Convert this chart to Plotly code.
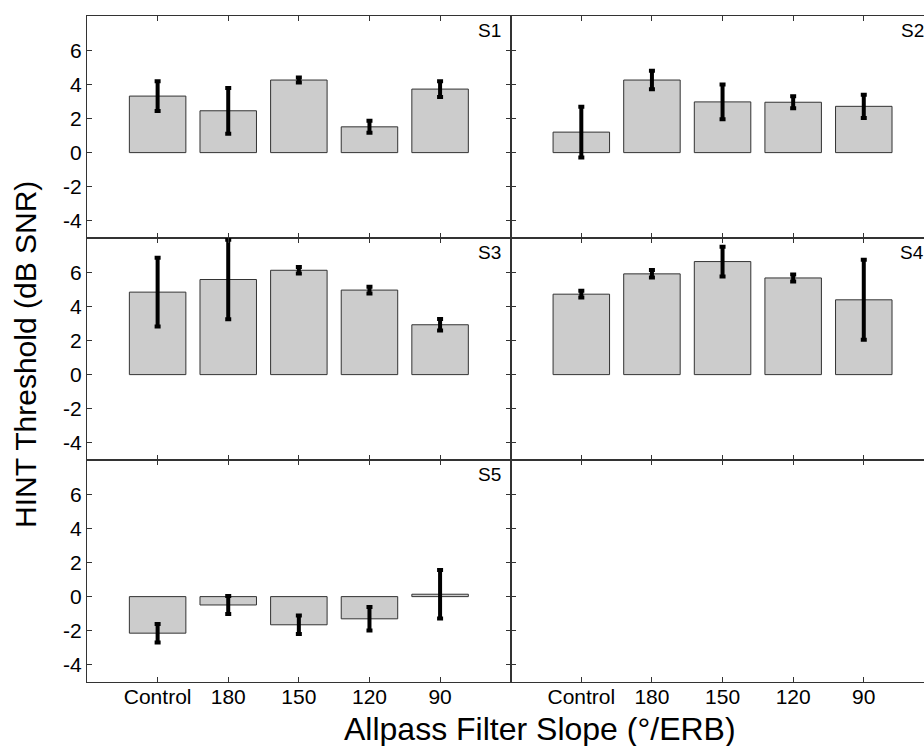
import plotly.graph_objects as go

categories = ["Control", "180", "150", "120", "90"]
panel_labels = ["S1", "S2", "S3", "S4", "S5"]

s1_mean = [3.31, 2.45, 4.25, 1.51, 3.72]
s1_err = [0.87, 1.34, 0.15, 0.35, 0.46]
s2_mean = [1.20, 4.25, 2.97, 2.95, 2.71]
s2_err = [1.48, 0.54, 1.02, 0.35, 0.68]
s3_mean = [4.83, 5.57, 6.11, 4.95, 2.92]
s3_err = [2.01, 2.33, 0.19, 0.20, 0.33]
s4_mean = [4.71, 5.90, 6.62, 5.66, 4.38]
s4_err = [0.20, 0.22, 0.87, 0.20, 2.34]
s5_mean = [-2.14, -0.49, -1.65, -1.30, 0.14]
s5_err = [0.54, 0.53, 0.54, 0.69, 1.42]

means = [s1_mean, s2_mean, s3_mean, s4_mean, s5_mean]
errs = [s1_err, s2_err, s3_err, s4_err, s5_err]

y_ticks = [-4, -2, 0, 2, 4, 6]
y_range = [-5, 8]

W, H = 924, 746
ML, MR, MT, MB = 87, 0, 16, 64
plot_w = W - ML - MR
left_w = 423.7
split = left_w / plot_w
unit_px = left_w / 6.0
right_visible_units = (W - ML - left_w) / unit_px

FONT = "Liberation Sans, Arial, sans-serif"
LINE = "#333333"

fig = go.Figure()

panels = [(0, 0), (0, 1), (1, 0), (1, 1), (2, 0), (2, 1)]
row_dom = [[2 / 3, 1.0], [1 / 3, 2 / 3], [0.0, 1 / 3]]
col_dom = [[0.0, split], [split, 1.0]]

for i, (r, c) in enumerate(panels):
    n = i + 1
    xa = "x" if n == 1 else f"x{n}"
    ya = "y" if n == 1 else f"y{n}"
    if i < 5:
        fig.add_trace(go.Bar(
            x=categories, y=means[i],
            error_y=dict(type="data", array=errs[i], visible=True,
                         color="black", thickness=4, width=3),
            marker=dict(color="#cccccc", line=dict(color=LINE, width=1)),
            width=0.8, xaxis=xa, yaxis=ya, showlegend=False,
            cliponaxis=False,
        ))
    else:
        fig.add_trace(go.Bar(x=categories, y=[None] * 5, xaxis=xa, yaxis=ya,
                             showlegend=False))
    xr = [-1, 5] if c == 0 else [-1, -1 + right_visible_units]
    xkey = "xaxis" if n == 1 else f"xaxis{n}"
    ykey = "yaxis" if n == 1 else f"yaxis{n}"
    fig.layout[xkey] = dict(
        domain=col_dom[c], anchor=ya, type="category",
        categoryorder="array", categoryarray=categories,
        range=xr, showline=True, linecolor=LINE, linewidth=1,
        mirror="ticks", ticks="inside", ticklen=5, tickwidth=1,
        tickcolor=LINE, showgrid=False, zeroline=False,
        showticklabels=(r == 2), ticklabelstandoff=-4,
        tickfont=dict(family=FONT, size=21, color="black"),
        fixedrange=True,
    )
    fig.layout[ykey] = dict(
        domain=row_dom[r], anchor=xa, range=y_range,
        tickvals=y_ticks, ticktext=[str(v) for v in y_ticks],
        showline=True, linecolor=LINE, linewidth=1,
        mirror=("ticks" if c == 0 else False), ticks="inside", ticklen=5,
        tickwidth=1, tickcolor=LINE, showgrid=False, zeroline=False,
        showticklabels=(c == 0),
        tickfont=dict(family=FONT, size=21, color="black"),
        fixedrange=True,
    )

annotations = []
for i in range(5):
    r, c = panels[i]
    n = i + 1
    xa = "x" if n == 1 else f"x{n}"
    ya = "y" if n == 1 else f"y{n}"
    if c == 0:
        xd = (503 - ML) / left_w
    else:
        xd = (926 - ML - left_w) / (W - ML - left_w)
    annotations.append(dict(
        text=panel_labels[i], xref=f"{xa} domain", yref=f"{ya} domain",
        x=xd, y=0.99, xanchor="right", yanchor="top", showarrow=False,
        font=dict(family=FONT, size=19, color="black"),
    ))

annotations.append(dict(
    text="HINT Threshold (dB SNR)", xref="paper", yref="paper",
    x=(25 - ML) / plot_w, y=(682 - 355) / (H - MT - MB),
    xanchor="center", yanchor="middle", textangle=-90, showarrow=False,
    font=dict(family=FONT, size=30, color="black"),
))
annotations.append(dict(
    text="Allpass Filter Slope (°/ERB)", xref="paper", yref="paper",
    x=(540 - ML) / plot_w, y=(682 - 729) / (H - MT - MB),
    xanchor="center", yanchor="middle", showarrow=False,
    font=dict(family=FONT, size=32, color="black"),
))

fig.update_layout(
    width=W, height=H,
    margin=dict(l=ML, r=MR, t=MT, b=MB, pad=0),
    paper_bgcolor="white", plot_bgcolor="white",
    annotations=annotations, bargap=0.2,
    font=dict(family=FONT, color="black"),
)

fig.write_html(
    "out.html",
    config={"displayModeBar": False},
    post_script="document.body.style.margin='0';document.body.style.overflow='hidden';",
)
